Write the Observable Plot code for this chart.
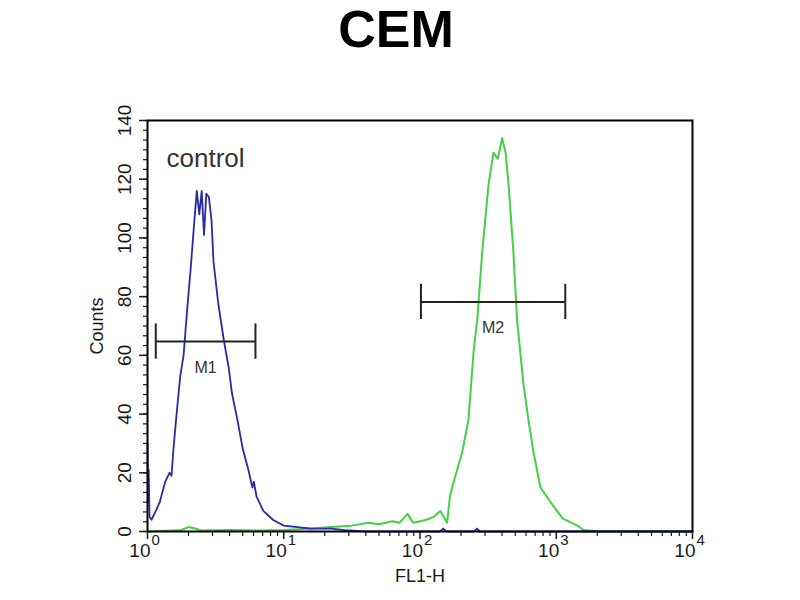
<!DOCTYPE html>
<html>
<head>
<meta charset="utf-8">
<script src="https://cdn.jsdelivr.net/npm/d3@7"></script>
<script src="https://cdn.jsdelivr.net/npm/@observablehq/plot@0.6"></script>
<style>
  body { margin: 0; background: white; font-family: "Liberation Sans", Arial, sans-serif; }
  #title { height: 55px; line-height: 58px; font-size: 52px; font-weight: bold; text-align: center; padding-right: 8px; color: #000; }
</style>
</head>
<body>
<div id="title">CEM</div>
<div id="chart"></div>
<script>
// control histogram (blue)
const blueX = [1.00, 1.01, 1.02, 1.035, 1.07, 1.15, 1.23, 1.35, 1.45, 1.50, 1.55, 1.62, 1.74, 1.84, 1.95,
  2.07, 2.20, 2.30, 2.40, 2.50, 2.60, 2.70, 2.82, 2.95, 3.05, 3.30, 3.61, 3.80, 3.94, 4.17, 4.57, 5.01,
  5.50, 5.89, 6.03, 6.31, 7.08, 8.32, 9.12, 10.0, 12.6, 15.8, 22.4, 28.0, 40, 140, 148, 156, 250, 262, 275, 10000];
const blueCounts = [30, 10, 21, 5, 4, 7, 10, 17, 20, 19, 28, 38, 53, 60, 75,
  89, 105, 116, 108, 116, 101, 115, 114, 106, 92, 78, 66, 60, 56, 47, 38, 28,
  21, 15, 17, 12, 7, 4, 3, 2, 1.5, 1, 1, 0.5, 0, 0, 1, 0, 0, 1, 0, 0];

// stained sample histogram (green)
const greenX = [1, 1.5, 1.78, 2.0, 2.24, 2.5, 4, 7, 10, 15.8, 22.4, 31.6, 41.7, 50, 63, 70.8, 81, 89,
  112, 126, 141, 158, 166, 172, 204, 227, 247, 263, 286, 318, 346, 372, 401, 425, 447, 485, 516,
  575, 625, 681, 766, 908, 1112, 1432, 1585, 2089, 10000];
const greenCounts = [0, 0.3, 0.5, 1.5, 1, 0.3, 0.5, 0.3, 0.5, 1, 1.5, 2, 3, 2.5, 3.5, 3, 6, 3,
  4, 5, 7, 3, 12, 15, 27, 38, 61, 72, 95, 118, 129, 127, 134, 129, 118, 95, 72,
  50, 38, 27, 15, 10, 4.5, 2, 0.5, 0, 0];

// marker gates
const markerNames = ["M1", "M2"];
const markerStart = [1.15, 101.6];
const markerEnd = [6.2, 1165];
const markerLevel = [64.7, 78.2];

const annotations = [{x: 1.38, y: 127, label: "control"}];

const yTicks = [0, 20, 40, 60, 80, 100, 120, 140];
const xTicks = [1, 10, 100, 1000, 10000];
const xTickExp = ["0", "1", "2", "3", "4"];

const blue = blueX.map((x, i) => ({x, y: blueCounts[i]}));
const green = greenX.map((x, i) => ({x, y: greenCounts[i]}));
const markers = markerNames.map((name, i) => ({
  name, start: markerStart[i], end: markerEnd[i], level: markerLevel[i]
}));

const minorY = d3.range(43).map((i) => (i * 20) / 6);
const minorX = d3.range(4).flatMap((e) => d3.range(2, 10).map((m) => m * 10 ** e));

const chart = Plot.plot({
  width: 800,
  height: 545,
  marginTop: 65,
  marginBottom: 69,
  marginLeft: 147,
  marginRight: 108,
  x: {type: "log", domain: [1, 10000]},
  y: {domain: [0, 140]},
  style: {fontFamily: "'Liberation Sans', Arial, sans-serif", fontSize: "17px", color: "#1a1a1a", background: "white"},
  marks: [
    Plot.axisY(minorY, {tickSize: 4, tickFormat: () => "", label: null, strokeWidth: 1.2}),
    Plot.axisY(yTicks, {tickSize: 8, tickFormat: () => "", label: null, strokeWidth: 1.5}),
    Plot.text(yTicks, {y: (d) => d, frameAnchor: "left", text: (d) => String(d), rotate: -90,
      textAnchor: "middle", lineAnchor: "middle", dx: -23, fontSize: 19, fill: "#1a1a1a"}),
    Plot.axisX(minorX, {tickSize: 5, tickFormat: () => "", label: null, strokeWidth: 1.2}),
    Plot.axisX(xTicks, {tickSize: 8, tickFormat: () => "", label: null, strokeWidth: 1.5}),
    Plot.text(xTicks, {x: (d) => d, frameAnchor: "bottom", text: () => "10", textAnchor: "end",
      lineAnchor: "top", dx: 3, dy: 12, fontSize: 19}),
    Plot.text(xTicks, {x: (d) => d, frameAnchor: "bottom", text: (d, i) => xTickExp[i], textAnchor: "start",
      lineAnchor: "top", dx: 4, dy: 3, fontSize: 15}),
    Plot.text(["Counts"], {frameAnchor: "left", dx: -50, rotate: -90, textAnchor: "middle",
      lineAnchor: "middle", fontSize: 18, text: (d) => d}),
    Plot.text(["FL1-H"], {frameAnchor: "bottom", lineAnchor: "top", dy: 38, fontSize: 18, text: (d) => d}),
    Plot.line(green, {x: "x", y: "y", stroke: "#45d045", strokeWidth: 2}),
    Plot.line(blue, {x: "x", y: "y", stroke: "#2a2aa5", strokeWidth: 1.8}),
    Plot.ruleY(markers, {x1: "start", x2: "end", y: "level", stroke: "#222", strokeWidth: 2}),
    Plot.ruleX(markers, {x: "start", y1: (d) => d.level - 6, y2: (d) => d.level + 6, stroke: "#222", strokeWidth: 2}),
    Plot.ruleX(markers, {x: "end", y1: (d) => d.level - 6, y2: (d) => d.level + 6, stroke: "#222", strokeWidth: 2}),
    Plot.text(markers, {x: (d) => Math.sqrt(d.start * d.end), y: "level", dy: 26, text: "name", fontSize: 16, fill: "#333"}),
    Plot.text(annotations, {x: "x", y: "y", text: "label", textAnchor: "start", fontSize: 26, fill: "#333"}),
    Plot.frame({stroke: "black", strokeWidth: 2})
  ]
});

document.getElementById("chart").appendChild(chart);
</script>
</body>
</html>
